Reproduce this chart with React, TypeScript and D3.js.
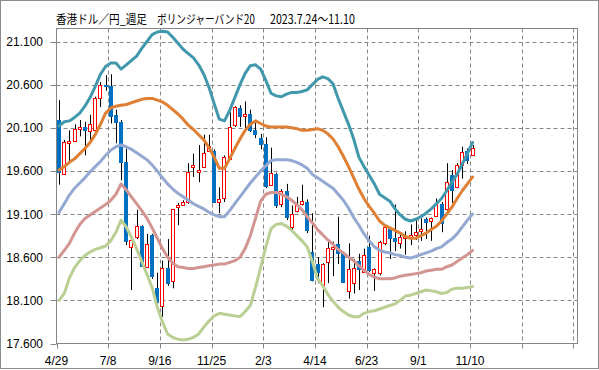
import React, { useLayoutEffect, useRef, useState } from "react";
import * as d3 from "d3";

// title split in its three visual pieces
const titleParts = ["香港ドル／円_週足", "ボリンジャーバンド20", "2023.7.24～11.10"];
const titleX = [56, 157, 270];
const titleW = [91, 98, 85];

const xTickLabels = ["4/29", "7/8", "9/16", "11/25", "2/3", "4/14", "6/23", "9/1", "11/10"];
const yTicks = [17.6, 18.1, 18.6, 19.1, 19.6, 20.1, 20.6, 21.1];

// weekly candles, 2022/4/29 .. 2023/11/10
const open = [
  20.19, 19.57, 19.93, 19.95, 20.09, 20.11, 20.06, 20.07, 20.45, 20.6,
  20.58, 20.25, 20.17, 19.7, 18.72, 18.83, 18.96, 18.49, 18.86, 18.24,
  18.04, 18.48, 18.33, 19.18, 19.21, 19.24, 19.655, 19.59, 19.64, 19.83,
  19.83, 19.24, 19.29, 19.74, 20.135, 20.33, 20.24, 20.26, 20.07, 19.98,
  19.91, 19.44, 19.56, 19.22, 19.37, 18.95, 19.14, 19.22, 19.24, 18.66,
  18.52, 18.28, 18.54, 18.7, 18.75, 18.65, 18.21, 18.3, 18.56, 18.43,
  18.72, 18.42, 18.42, 18.76, 18.93, 18.82, 18.76, 18.83, 18.85, 18.86,
  18.92, 19.04, 19.02, 19.08, 19.22, 19.16, 19.55, 19.41, 19.67, 19.83,
  19.78,
];
const high = [
  20.42, 19.96, 20.07, 20.14, 20.19, 20.17, 20.25, 20.46, 20.63, 20.71,
  20.72, 20.31, 20.19, 19.86, 18.82, 19.15, 18.97, 18.87, 18.87, 18.42,
  18.56, 18.81, 19.16, 19.23, 19.26, 19.69, 19.8, 19.9, 20.02, 20.02,
  19.85, 19.41, 19.78, 20.28, 20.35, 20.36, 20.405, 20.31, 20.19, 20.03,
  19.99, 19.87, 19.58, 19.39, 19.45, 19.2, 19.3, 19.44, 19.27, 19.11,
  18.6, 18.53, 18.8, 18.78, 19.07, 18.66, 18.76, 18.58, 18.64, 18.7,
  18.85, 18.47, 18.79, 18.97, 18.95, 19.21, 18.87, 18.9, 18.98, 19.03,
  19.05, 19.06, 19.06, 19.28, 19.24, 19.69, 19.61, 19.69, 19.88, 19.86,
  19.9,
];
const low = [
  19.44, 19.56, 19.68, 19.95, 20.0, 19.78, 19.95, 20.05, 20.34, 20.53,
  20.15, 19.92, 19.49, 18.74, 18.22, 18.81, 18.49, 18.48, 18.35, 18.02,
  17.91, 18.27, 18.24, 18.97, 19.2, 19.22, 19.53, 19.47, 19.64, 19.82,
  19.23, 19.11, 19.24, 19.74, 20.11, 20.11, 20.09, 20.05, 19.98, 19.85,
  19.4, 19.43, 19.17, 19.18, 19.03, 18.89, 19.12, 19.2, 18.88, 18.32,
  18.3, 18.02, 18.3, 18.38, 18.52, 18.3, 18.12, 18.18, 18.22, 18.42,
  18.43, 18.21, 18.39, 18.74, 18.58, 18.67, 18.7, 18.63, 18.74, 18.8,
  18.79, 18.81, 18.79, 19.07, 18.89, 19.14, 19.23, 19.4, 19.51, 19.68,
  19.78,
];
const close = [
  19.58, 19.94, 19.95, 20.09, 20.11, 20.06, 20.14, 20.44, 20.6, 20.57,
  20.22, 20.16, 19.69, 18.78, 18.8, 18.96, 18.49, 18.75, 18.37, 18.07,
  18.47, 18.29, 19.16, 19.2, 19.24, 19.59, 19.67, 19.61, 19.81, 19.89,
  19.23, 19.28, 19.76, 20.11, 20.34, 20.22, 20.26, 20.06, 20.02, 19.9,
  19.41, 19.575, 19.19, 19.37, 19.05, 19.1, 19.21, 19.25, 18.9, 18.32,
  18.42, 18.52, 18.71, 18.72, 18.64, 18.3, 18.46, 18.48, 18.45, 18.63,
  18.44, 18.46, 18.78, 18.95, 18.81, 18.78, 18.84, 18.85, 18.86, 18.89,
  18.93, 19.0, 19.06, 19.22, 18.99, 19.47, 19.37, 19.67, 19.82, 19.72,
  19.87,
];

// bollinger bands (20 weeks)
const upper2 = [
  20.12, 20.17, 20.18, 20.22, 20.27, 20.35, 20.45, 20.58, 20.72, 20.81,
  20.85, 20.85, 20.78, 20.83, 20.88, 20.93, 21.02, 21.1, 21.18, 21.21,
  21.22, 21.21, 21.15, 21.08, 21.01, 20.96, 20.91, 20.83, 20.72, 20.57,
  20.38, 20.2, 20.18, 20.3, 20.45, 20.6, 20.73, 20.82, 20.83, 20.78,
  20.65, 20.5, 20.47, 20.46, 20.49, 20.51, 20.51, 20.52, 20.54, 20.6,
  20.66, 20.69, 20.67, 20.61, 20.44, 20.29, 20.14, 19.97, 19.76, 19.65,
  19.55, 19.45, 19.33, 19.29, 19.25, 19.16, 19.09, 19.04, 19.02, 19.04,
  19.07, 19.11, 19.16, 19.22, 19.28, 19.37, 19.47, 19.56, 19.68, 19.8,
  19.93,
];
const upper1 = [
  19.61, 19.65, 19.7, 19.74, 19.8, 19.86, 19.93, 20.02, 20.14, 20.27,
  20.33, 20.35, 20.36, 20.37, 20.39, 20.41, 20.43, 20.44, 20.44, 20.42,
  20.4, 20.36, 20.31, 20.26, 20.2, 20.13, 20.08, 20.02, 19.96, 19.87,
  19.76, 19.63, 19.63, 19.74, 19.86, 19.97, 20.07, 20.14, 20.18, 20.15,
  20.12, 20.11, 20.11, 20.11, 20.11, 20.1, 20.09, 20.07, 20.07, 20.08,
  20.09, 20.07, 20.03, 19.97, 19.88, 19.77, 19.65, 19.52, 19.39, 19.28,
  19.19, 19.11, 19.02, 18.97, 18.94, 18.91, 18.88, 18.84, 18.82, 18.82,
  18.85, 18.88, 18.92, 18.96, 19.02, 19.1, 19.18, 19.28, 19.37, 19.45,
  19.53,
];
const middle = [
  19.12, 19.22, 19.32, 19.4, 19.46, 19.52, 19.59, 19.65, 19.71, 19.78,
  19.84, 19.88, 19.9, 19.88, 19.85, 19.81, 19.77, 19.73, 19.67, 19.6,
  19.52, 19.45, 19.39, 19.34, 19.3, 19.26, 19.22, 19.19, 19.16, 19.12,
  19.09, 19.07, 19.07, 19.14, 19.22, 19.3, 19.38, 19.46, 19.53, 19.6,
  19.66, 19.72, 19.73, 19.73, 19.73, 19.72, 19.7, 19.67, 19.63, 19.56,
  19.52, 19.48, 19.44, 19.4, 19.33, 19.26, 19.17, 19.06, 18.97, 18.87,
  18.79, 18.72, 18.68, 18.66, 18.65, 18.63, 18.62, 18.6, 18.59, 18.61,
  18.63, 18.65, 18.67, 18.7, 18.72, 18.77, 18.81, 18.87, 18.95, 19.03,
  19.1,
];
const lower1 = [
  18.6, 18.68, 18.76, 18.88, 18.98, 19.05, 19.09, 19.13, 19.17, 19.21,
  19.26, 19.33, 19.45, 19.38, 19.3, 19.22, 19.14, 19.05, 18.94, 18.82,
  18.7, 18.6, 18.53, 18.49, 18.48, 18.47, 18.47, 18.48, 18.49, 18.5,
  18.51, 18.52, 18.52, 18.54, 18.56, 18.6, 18.7, 18.85, 19.05, 19.25,
  19.33, 19.35, 19.35, 19.33, 19.3, 19.26, 19.21, 19.15, 19.07, 19.0,
  18.92, 18.86, 18.8, 18.75, 18.69, 18.65, 18.6, 18.56, 18.5, 18.45,
  18.4, 18.37, 18.35, 18.35, 18.35, 18.36, 18.38, 18.39, 18.4, 18.41,
  18.42, 18.44, 18.45, 18.46, 18.46, 18.49, 18.51, 18.55, 18.59, 18.63,
  18.68,
];
const lower2 = [
  18.1, 18.18, 18.36, 18.48, 18.56, 18.62, 18.66, 18.69, 18.71, 18.73,
  18.79, 18.89, 19.03, 18.95, 18.83, 18.7, 18.55, 18.4, 18.25, 18.02,
  17.85, 17.71, 17.67, 17.65, 17.64, 17.65, 17.67, 17.71, 17.79, 17.86,
  17.92, 17.95, 17.94, 17.93, 17.92, 17.91, 17.97, 18.04, 18.25, 18.48,
  18.72, 18.93, 18.98, 18.99, 18.96, 18.91, 18.85, 18.79, 18.72, 18.55,
  18.35, 18.27, 18.17, 18.09, 18.02, 17.97, 17.93, 17.91, 17.91, 17.95,
  17.97, 17.98, 18.0, 18.02, 18.04, 18.06, 18.1, 18.15, 18.16, 18.18,
  18.2, 18.22, 18.21, 18.2, 18.18, 18.19, 18.23, 18.24, 18.24, 18.25,
  18.26,
];

const bands = [
  { values: lower2, color: "#b9cf93" },
  { values: lower1, color: "#d39592" },
  { values: middle, color: "#93a9d2" },
  { values: upper1, color: "#df7f34" },
  { values: upper2, color: "#4198ad" },
];

const plot = { left: 56.5, right: 577.5, top: 28.5, bottom: 343.5 };
const gridColor = "#868686";

// text squeezed horizontally to a target width (reference font has narrow kana)
const FitText: React.FC<{ x: number; y: number; width: number; children: string }> = ({ x, y, width, children }) => {
  const ref = useRef<SVGTextElement | null>(null);
  const [sx, setSx] = useState(1);
  useLayoutEffect(() => {
    if (ref.current) {
      const w = ref.current.getComputedTextLength();
      if (w > 0) setSx(width / w);
    }
  }, [width, children]);
  return (
    <text ref={ref} transform={`translate(${x},${y}) scale(${sx},1)`}>{children}</text>
  );
};

export default function App() {
  const x = d3.scaleLinear().domain([0, 100.8]).range([plot.left, plot.right]);
  const y = d3.scaleLinear().domain([17.6, 21.1]).range([plot.bottom, 41.5]);
  const cx = (i: number) => x(i + 0.5);
  const snap = (v: number) => Math.round(v) + 0.5;

  const line = d3.line<number>()
    .x((_, i) => cx(i))
    .y(d => y(d));

  const gridX = d3.range(0, 101, 10);

  return (
    <svg width={599} height={370} style={{ position: "absolute", left: 0, top: 0, background: "#fff" }}>
      <rect x={0.5} y={0.5} width={598} height={368} fill="#fff" stroke="#8c8c8c" />

      <g fontFamily="'Noto Sans CJK JP', sans-serif" fontSize={12.5} fill="#000">
        {titleParts.map((t, k) => (
          <FitText key={k} x={titleX[k]} y={23.5} width={titleW[k]}>{t}</FitText>
        ))}
      </g>

      {/* grid */}
      <g stroke={gridColor} strokeWidth={1}>
        {yTicks.slice(1).map(t => (
          <line key={"h" + t} x1={plot.left} x2={plot.right} y1={snap(y(t))} y2={snap(y(t))} strokeDasharray="4 3" />
        ))}
        {gridX.slice(1).map(g => (
          <line key={"v" + g} x1={snap(x(g))} x2={snap(x(g))} y1={plot.top} y2={plot.bottom} strokeDasharray="4 3" />
        ))}
        {yTicks.map(t => (
          <line key={"yt" + t} x1={plot.left - 6} x2={plot.left} y1={snap(y(t))} y2={snap(y(t))} />
        ))}
        {gridX.map(g => (
          <line key={"xt" + g} x1={snap(x(g))} x2={snap(x(g))} y1={plot.bottom} y2={plot.bottom + 5} />
        ))}
        <rect x={plot.left} y={plot.top} width={plot.right - plot.left} height={plot.bottom - plot.top} fill="none" />
      </g>

      {/* candles */}
      <g>
        {open.map((o, i) => {
          const c = close[i];
          const up = c >= o;
          const xc = snap(cx(i));
          const top = Math.round(y(Math.max(o, c)));
          const bot = Math.round(y(Math.min(o, c)));
          return (
            <g key={i}>
              <line x1={xc} x2={xc} y1={y(high[i])} y2={y(low[i])} stroke="#000" strokeWidth={1} />
              {up ? (
                <rect x={xc - 2} y={top + 0.5} width={3} height={Math.max(bot - top, 2)} fill="#fff" stroke="#ff0000" strokeWidth={1} />
              ) : (
                <rect x={xc - 2.5} y={top} width={4} height={Math.max(bot - top, 2)} fill="#0070c0" />
              )}
            </g>
          );
        })}
      </g>

      {/* bands */}
      <g fill="none" strokeWidth={3} strokeLinejoin="round" strokeLinecap="round">
        {bands.map((b, k) => (
          <path key={k} d={line(b.values) ?? ""} stroke={b.color} />
        ))}
      </g>

      {/* axis labels */}
      <g fontFamily="'Liberation Sans', Arial, sans-serif" fontSize={12} fill="#000">
        {yTicks.map(t => (
          <text key={"yl" + t} x={43} y={y(t) + 4.5} textAnchor="end">{t.toFixed(3)}</text>
        ))}
        {xTickLabels.map((l, k) => (
          <text key={"xl" + l} x={x(k * 10)} y={365} textAnchor="middle">{l}</text>
        ))}
      </g>
    </svg>
  );
}
